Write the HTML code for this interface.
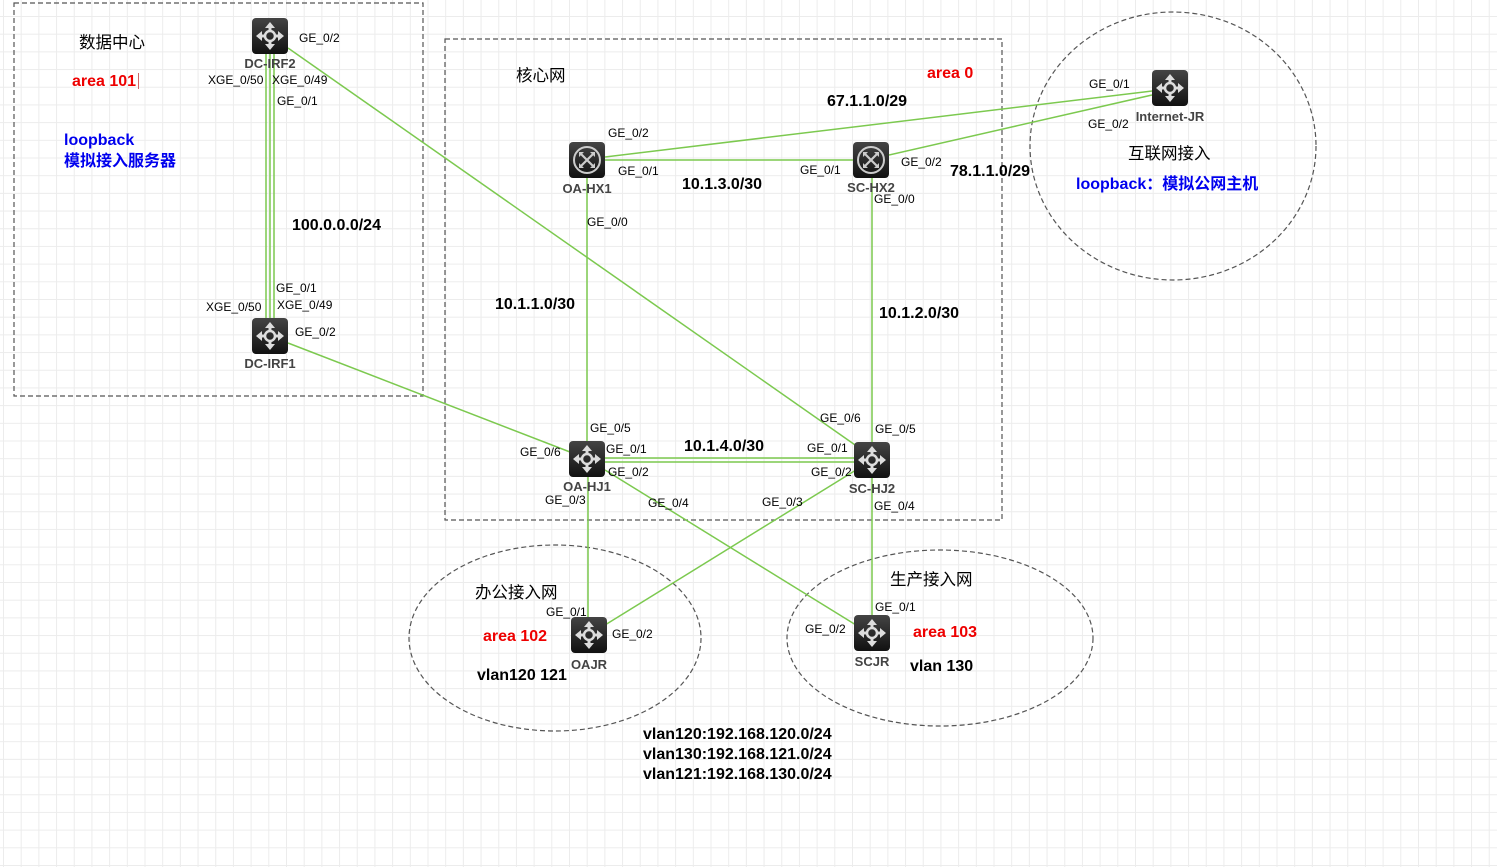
<!DOCTYPE html>
<html><head><meta charset="utf-8"><style>
html,body{margin:0;padding:0;width:1497px;height:867px;overflow:hidden;background:#fff;}
.bg{position:absolute;left:0;top:0;width:1497px;height:867px;
background-image:linear-gradient(to right,#ececec 1px,transparent 1px),linear-gradient(to bottom,#ececec 1px,transparent 1px);
background-size:17.7px 17.7px;background-position:3px 16px;}
svg{position:absolute;left:0;top:0;}
text{font-family:"Liberation Sans","Noto Sans CJK SC",sans-serif;}
.p{font-size:12px;fill:#000;}
.b{font-size:16px;font-weight:bold;fill:#000;}
.n{font-size:13px;font-weight:bold;fill:#444;}
.r{font-size:16px;font-weight:bold;fill:#e00;}
.bl{font-size:16px;font-weight:bold;fill:#0000ee;}
.cn{font-size:16.5px;fill:#000;}
</style></head><body><div class="bg"></div>
<svg width="1497" height="867" viewBox="0 0 1497 867">
<defs>
<linearGradient id="g" x1="0" y1="0" x2="0" y2="1"><stop offset="0" stop-color="#444"/><stop offset="1" stop-color="#111"/></linearGradient>
<g id="sw">
<rect x="-18" y="-18" width="36" height="36" rx="4" fill="url(#g)"/>
<g fill="#ddd" stroke="none">
<circle cx="0" cy="0" r="5" fill="none" stroke="#ddd" stroke-width="2.5"/>
<path d="M0,-14 L-5,-8 L-1.5,-8 L-1.5,-5 L1.5,-5 L1.5,-8 L5,-8Z"/>
<path d="M0,14 L-5,8 L-1.5,8 L-1.5,5 L1.5,5 L1.5,8 L5,8Z"/>
<path d="M-14,0 L-8,-5 L-8,-1.5 L-5,-1.5 L-5,1.5 L-8,1.5 L-8,5Z"/>
<path d="M14,0 L8,-5 L8,-1.5 L5,-1.5 L5,1.5 L8,1.5 L8,5Z"/>
</g></g>
<g id="rt">
<rect x="-18" y="-18" width="36" height="36" rx="4" fill="url(#g)"/>
<circle cx="0" cy="0" r="13" fill="none" stroke="#ccc" stroke-width="2"/>
<g stroke="#ccc" stroke-width="2.2"><path d="M-6,-6 L6,6 M6,-6 L-6,6"/></g>
<g fill="#ccc"><path d="M-8,-8 l5,0 l-5,5z M8,8 l-5,0 l5,-5z M8,-8 l-5,0 l5,5z M-8,8 l5,0 l-5,-5z"/></g>
</g>
</defs>
<g fill="none" stroke="#555" stroke-width="1.2" stroke-dasharray="5,3">
<rect x="14" y="3" width="409" height="393"/>
<rect x="445" y="39" width="557" height="481"/>
<ellipse cx="1173" cy="146" rx="143" ry="134"/>
<ellipse cx="555" cy="638" rx="146" ry="93"/>
<ellipse cx="940" cy="638" rx="153" ry="88"/>
</g>
<g stroke="#7cc94f" stroke-width="1.5" fill="none">
<line x1="266" y1="54" x2="266" y2="318"/><line x1="270" y1="54" x2="270" y2="318"/><line x1="274" y1="54" x2="274" y2="318"/>
<line x1="288" y1="48" x2="858" y2="447"/>
<line x1="288" y1="343" x2="570" y2="452"/>
<line x1="605" y1="157" x2="1152" y2="91"/>
<line x1="605" y1="160" x2="853" y2="160"/>
<line x1="889" y1="155" x2="1152" y2="95"/>
<line x1="587" y1="178" x2="587" y2="441"/>
<line x1="872" y1="178" x2="872" y2="442"/>
<line x1="605" y1="458" x2="854" y2="458"/><line x1="605" y1="462" x2="854" y2="462"/>
<line x1="588" y1="477" x2="588" y2="617"/>
<line x1="605" y1="470" x2="856" y2="625"/>
<line x1="856" y1="470" x2="605" y2="625"/>
<line x1="872" y1="478" x2="872" y2="615"/>
</g>
<use href="#sw" x="270" y="36"/><use href="#sw" x="270" y="336"/>
<use href="#rt" x="587" y="160"/><use href="#rt" x="871" y="160"/>
<use href="#sw" x="587" y="459"/><use href="#sw" x="872" y="460"/>
<use href="#sw" x="589" y="635"/><use href="#sw" x="872" y="633"/>
<use href="#sw" x="1170" y="88"/>
<g class="n" text-anchor="middle">
<text x="270" y="68">DC-IRF2</text><text x="270" y="368">DC-IRF1</text>
<text x="587" y="193">OA-HX1</text><text x="871" y="192">SC-HX2</text>
<text x="587" y="491">OA-HJ1</text><text x="872" y="493">SC-HJ2</text>
<text x="589" y="669">OAJR</text><text x="872" y="666">SCJR</text>
<text x="1170" y="121">Internet-JR</text>
</g>
<g class="p">
<text x="299" y="42">GE_0/2</text><text x="208" y="84">XGE_0/50</text><text x="272" y="84">XGE_0/49</text><text x="277" y="105">GE_0/1</text>
<text x="276" y="292">GE_0/1</text><text x="206" y="311">XGE_0/50</text><text x="277" y="309">XGE_0/49</text><text x="295" y="336">GE_0/2</text>
<text x="608" y="137">GE_0/2</text><text x="618" y="175">GE_0/1</text><text x="800" y="174">GE_0/1</text>
<text x="901" y="166">GE_0/2</text><text x="874" y="203">GE_0/0</text><text x="587" y="226">GE_0/0</text>
<text x="1089" y="88">GE_0/1</text><text x="1088" y="128">GE_0/2</text>
<text x="590" y="432">GE_0/5</text><text x="520" y="456">GE_0/6</text><text x="606" y="453">GE_0/1</text><text x="608" y="476">GE_0/2</text>
<text x="545" y="504">GE_0/3</text><text x="648" y="507">GE_0/4</text>
<text x="820" y="422">GE_0/6</text><text x="875" y="433">GE_0/5</text><text x="807" y="452">GE_0/1</text><text x="811" y="476">GE_0/2</text>
<text x="762" y="506">GE_0/3</text><text x="874" y="510">GE_0/4</text>
<text x="546" y="616">GE_0/1</text><text x="612" y="638">GE_0/2</text>
<text x="875" y="611">GE_0/1</text><text x="805" y="633">GE_0/2</text>
</g>
<g class="b">
<text x="292" y="230">100.0.0.0/24</text><text x="827" y="106">67.1.1.0/29</text><text x="682" y="189">10.1.3.0/30</text>
<text x="950" y="176">78.1.1.0/29</text><text x="495" y="309">10.1.1.0/30</text><text x="879" y="318">10.1.2.0/30</text>
<text x="684" y="451">10.1.4.0/30</text><text x="477" y="680">vlan120 121</text><text x="910" y="671">vlan 130</text>
<text x="643" y="739">vlan120:192.168.120.0/24</text><text x="643" y="759">vlan130:192.168.121.0/24</text><text x="643" y="779">vlan121:192.168.130.0/24</text>
</g>
<g class="cn">
<text x="79" y="48">数据中心</text><text x="516" y="81">核心网</text><text x="1128" y="159">互联网接入</text>
<text x="475" y="598">办公接入网</text><text x="890" y="585">生产接入网</text>
</g>
<g class="r"><text x="72" y="86">area 101</text><text x="927" y="78">area 0</text><text x="483" y="641">area 102</text><text x="913" y="637">area 103</text></g>
<line x1="138.5" y1="73" x2="138.5" y2="89" stroke="#c66" stroke-width="1"/>
<g class="bl"><text x="64" y="145">loopback</text><text x="64" y="166">模拟接入服务器</text><text x="1076" y="189">loopback：模拟公网主机</text></g>
</svg>
</body></html>
